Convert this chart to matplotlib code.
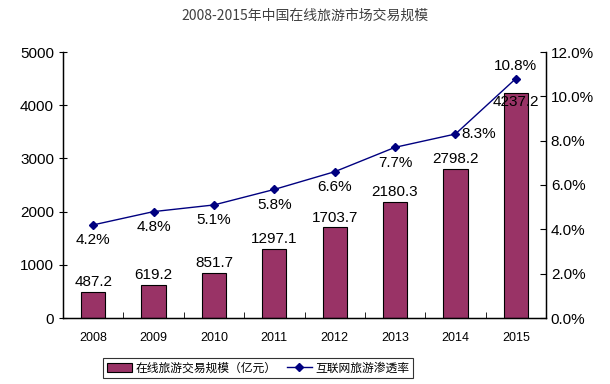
import matplotlib
matplotlib.use('Agg')
import matplotlib.pyplot as plt
import numpy as np

plt.rcParams['font.family'] = ['Liberation Sans', 'Noto Sans CJK SC', 'DejaVu Sans']

years = ['2008', '2009', '2010', '2011', '2012', '2013', '2014', '2015']
scale = [487.2, 619.2, 851.7, 1297.1, 1703.7, 2180.3, 2798.2, 4237.2]
rate = [4.2, 4.8, 5.1, 5.8, 6.6, 7.7, 8.3, 10.8]

fig = plt.figure(figsize=(6.1, 3.84), dpi=100)
ax = fig.add_axes([63/610, 1-318/384, 483/610, 266/384])
ax2 = ax.twinx()

x = np.arange(len(years))
bars = ax.bar(x, scale, width=0.4, color='#993366', edgecolor='black', linewidth=0.8,
              label='在线旅游交易规模（亿元）', zorder=2)
line, = ax2.plot(x, rate, color='#000080', marker='D', markersize=4.5, linewidth=1,
                 label='互联网旅游渗透率', zorder=3)

ax.set_xlim(-0.5, len(years) - 0.5)
ax.set_ylim(0, 5000)
ax.set_yticks(range(0, 5001, 1000))
ax2.set_ylim(0, 12)
ax2.set_yticks(np.arange(0, 12.1, 2))
ax2.set_yticklabels(['%.1f%%' % v for v in np.arange(0, 12.1, 2)])

ax.set_xticks(x)
ax.set_xticklabels(years, fontsize=9)
ax.set_xticks(np.arange(-0.5, len(years), 1), minor=True)
ax.tick_params(axis='x', which='major', length=0, pad=10)
ax.tick_params(axis='x', which='minor', direction='in', length=4)
ax.tick_params(axis='y', direction='inout', length=6, labelsize=11)
ax2.tick_params(axis='y', direction='in', length=4, labelsize=11)

ax.spines['top'].set_visible(False)
ax2.spines['top'].set_visible(False)
for s in ['left', 'bottom']:
    ax.spines[s].set_linewidth(1)
ax2.spines['right'].set_linewidth(1)

# bar labels
for i, v in enumerate(scale):
    off = -1.5 if i == len(scale) - 1 else 2
    ax.annotate('%.1f' % v, (x[i], v), xytext=(0, off), textcoords='offset points',
                ha='center', va='bottom' if off > 0 else 'top', fontsize=11)

# line labels
for i, v in enumerate(rate):
    if i == 6:
        ax2.annotate('%.1f%%' % v, (x[i], v), xytext=(4, 0), textcoords='offset points',
                     ha='left', va='center', fontsize=11)
    elif i == 7:
        ax2.annotate('%.1f%%' % v, (x[i], v), xytext=(0, 4), textcoords='offset points',
                     ha='center', va='bottom', fontsize=11)
    else:
        ax2.annotate('%.1f%%' % v, (x[i], v), xytext=(0, -6), textcoords='offset points',
                     ha='center', va='top', fontsize=11)

fig.text(0.5, 1-16/384, '2008-2015年中国在线旅游市场交易规模', ha='center', va='center',
         fontsize=10, color='#404040', family=['Noto Sans CJK SC'])

leg = fig.legend([bars, line], ['在线旅游交易规模（亿元）', '互联网旅游渗透率'],
                 loc='center', bbox_to_anchor=(258/610, 1-368/384), ncol=2,
                 frameon=True, fancybox=False, edgecolor='black',
                 handlelength=2.1, handleheight=0.7, columnspacing=0.9,
                 borderpad=0.3, handletextpad=0.3, borderaxespad=0,
                 prop={'family': ['Noto Sans CJK SC'], 'size': 8.5})
leg.get_frame().set_linewidth(0.8)

fig.savefig('out.png', dpi=100)
